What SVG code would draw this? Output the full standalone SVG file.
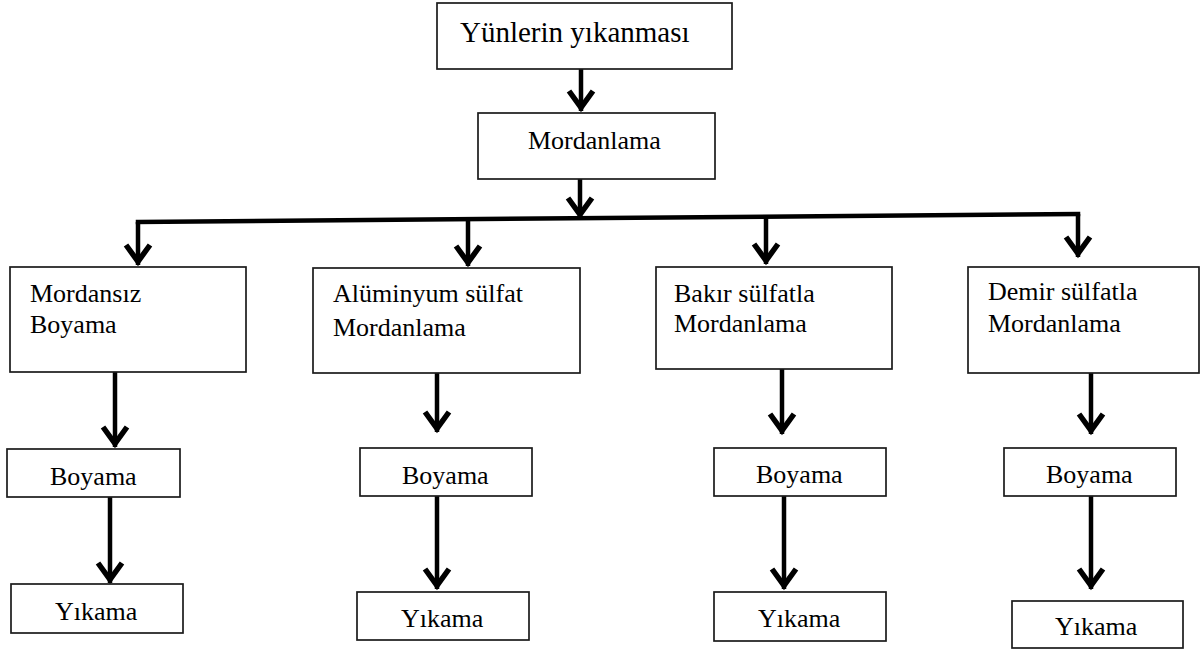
<svg xmlns="http://www.w3.org/2000/svg" width="1203" height="653" viewBox="0 0 1203 653">
<style>
.box{fill:#fff;stroke:#1a1a1a;stroke-width:1.7}
text{font-family:"Liberation Serif","Times New Roman",serif;font-size:26px;fill:#000}
.big{font-size:29px}
.con{stroke:#000;stroke-width:4.5;fill:none}
</style>
<defs>
<marker id="ah" viewBox="-28 -18 34 36" refX="0" refY="0" markerWidth="34" markerHeight="36" markerUnits="userSpaceOnUse" orient="auto" overflow="visible">
<path d="M-20,-12 L-3.5,0 L-20,12" fill="none" stroke="#000" stroke-width="5.5"/>
</marker>
</defs>
<rect width="1203" height="653" fill="#fff"/>

<g id="connectors">
<line class="con" x1="581" y1="69" x2="581" y2="111" marker-end="url(#ah)"/>
<line class="con" x1="580" y1="179" x2="580" y2="218" marker-end="url(#ah)"/>
<path class="con" d="M138,222 L1078,214" stroke-linecap="square"/>
<line class="con" x1="138" y1="222" x2="138" y2="265" marker-end="url(#ah)"/>
<line class="con" x1="468" y1="221" x2="468" y2="266" marker-end="url(#ah)"/>
<line class="con" x1="766" y1="218" x2="766" y2="264" marker-end="url(#ah)"/>
<line class="con" x1="1078" y1="214" x2="1078" y2="257" marker-end="url(#ah)"/>
<line class="con" x1="115" y1="372" x2="115" y2="447" marker-end="url(#ah)"/>
<line class="con" x1="110" y1="497" x2="110" y2="583" marker-end="url(#ah)"/>
<line class="con" x1="437" y1="373" x2="437" y2="432" marker-end="url(#ah)"/>
<line class="con" x1="437" y1="496" x2="437" y2="589" marker-end="url(#ah)"/>
<line class="con" x1="782" y1="369" x2="782" y2="434" marker-end="url(#ah)"/>
<line class="con" x1="784" y1="496" x2="784" y2="589" marker-end="url(#ah)"/>
<line class="con" x1="1091" y1="363" x2="1091" y2="434" marker-end="url(#ah)"/>
<line class="con" x1="1091" y1="496" x2="1091" y2="589" marker-end="url(#ah)"/>
</g>

<g id="n-yunlerin">
<rect class="box" x="437" y="3" width="295" height="66"/>
<text class="big" x="460" y="42">Yünlerin yıkanması</text>
</g>
<g id="n-mordanlama">
<rect class="box" x="478" y="113" width="237" height="66"/>
<text x="528" y="149">Mordanlama</text>
</g>

<g id="n-mordansiz">
<rect class="box" x="10" y="267" width="236" height="105"/>
<text x="30" y="302">Mordansız</text>
<text x="30" y="333">Boyama</text>
</g>
<g id="n-aluminyum">
<rect class="box" x="313" y="268" width="267" height="105"/>
<text x="333" y="302">Alüminyum sülfat</text>
<text x="333" y="336">Mordanlama</text>
</g>
<g id="n-bakir">
<rect class="box" x="656" y="267" width="236" height="102"/>
<text x="674" y="302">Bakır sülfatla</text>
<text x="674" y="332">Mordanlama</text>
</g>
<g id="n-demir">
<rect class="box" x="968" y="267" width="231" height="106"/>
<text x="988" y="300">Demir sülfatla</text>
<text x="988" y="332">Mordanlama</text>
</g>

<g id="n-boyama1">
<rect class="box" x="7" y="449" width="173" height="48"/>
<text x="50" y="485">Boyama</text>
</g>
<g id="n-boyama2">
<rect class="box" x="360" y="448" width="172" height="48"/>
<text x="402" y="484">Boyama</text>
</g>
<g id="n-boyama3">
<rect class="box" x="714" y="448" width="172" height="48"/>
<text x="756" y="483">Boyama</text>
</g>
<g id="n-boyama4">
<rect class="box" x="1004" y="448" width="172" height="48"/>
<text x="1046" y="483">Boyama</text>
</g>

<g id="n-yikama1">
<rect class="box" x="11" y="584" width="172" height="49"/>
<text x="55" y="620">Yıkama</text>
</g>
<g id="n-yikama2">
<rect class="box" x="357" y="592" width="172" height="48"/>
<text x="401" y="627">Yıkama</text>
</g>
<g id="n-yikama3">
<rect class="box" x="714" y="592" width="172" height="49"/>
<text x="758" y="627">Yıkama</text>
</g>
<g id="n-yikama4">
<rect class="box" x="1012" y="601" width="171" height="47"/>
<text x="1055" y="635">Yıkama</text>
</g>
</svg>
